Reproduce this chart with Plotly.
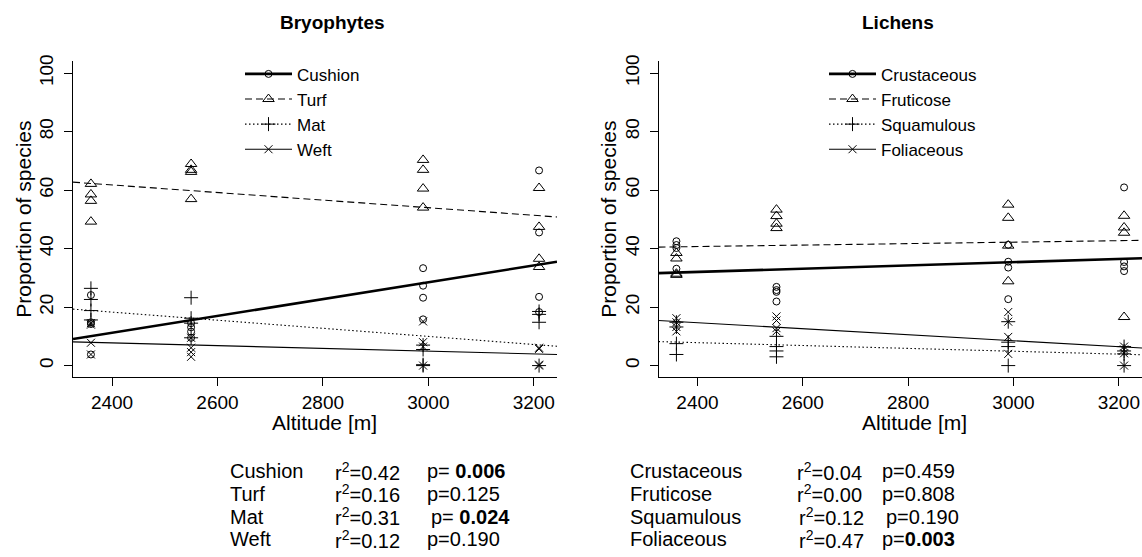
import plotly.graph_objects as go

# ---------------- data ----------------
altitudes = [2360, 2550, 2990, 3210]
trend_alt = [2326, 3244]

# Bryophytes (4 sites per altitude)
bryo_names = ["Cushion", "Turf", "Mat", "Weft"]
cushion = [24.1, 14.8, 14.2, 3.8, 14.5, 13.1, 11.6, 9.5, 33.3, 27.3, 23.2, 15.8, 66.7, 45.5, 23.5, 18.3]
turf = [62.1, 58.5, 56.3, 49.2, 68.9, 66.9, 66.2, 56.9, 70.3, 66.9, 60.5, 54.0, 60.7, 47.4, 36.5, 33.7]
mat = [26.4, 22.6, 18.8, 15.6, 23.2, 16.2, 14.5, 9.5, 7.0, 5.5, 0.3, 0.0, 18.5, 17.5, 14.8, 0.0]
weft = [14.5, 14.0, 7.8, 3.8, 9.5, 6.1, 4.6, 3.0, 15.1, 8.0, 6.5, 0.0, 6.1, 5.7, 0.3, 0.0]
bryo_trend = {
    "Cushion": [9.1, 35.5],
    "Turf": [62.7, 50.8],
    "Mat": [19.3, 6.6],
    "Weft": [8.1, 3.8],
}
bryo_r2 = ["0.42", "0.16", "0.31", "0.12"]
bryo_p = ["0.006", "0.125", "0.024", "0.190"]
bryo_sig = [True, False, True, False]
bryo_p_prefix = ["p= ", "p=", "p= ", "p="]

# Lichens
lich_names = ["Crustaceous", "Fruticose", "Squamulous", "Foliaceous"]
crust = [42.5, 41.2, 40.2, 33.1, 26.9, 25.8, 25.2, 21.9, 41.3, 35.5, 33.5, 22.7, 60.9, 35.4, 33.9, 32.3]
frut = [38.5, 36.6, 31.4, 31.0, 53.3, 51.1, 48.5, 47.0, 55.0, 50.5, 41.0, 28.8, 51.2, 47.2, 45.4, 16.6]
squam = [14.8, 13.2, 7.5, 3.8, 10.0, 6.5, 5.0, 3.0, 15.0, 8.0, 6.5, 0.0, 6.5, 5.0, 4.0, 0.0]
foli = [16.2, 14.8, 13.2, 11.7, 16.8, 15.4, 12.8, 11.7, 18.3, 15.0, 9.8, 4.0, 6.5, 5.5, 4.2, 0.0]
lich_trend = {
    "Crustaceous": [31.6, 36.7],
    "Fruticose": [40.5, 42.8],
    "Squamulous": [8.2, 3.7],
    "Foliaceous": [15.4, 6.0],
}
lich_r2 = ["0.04", "0.00", "0.12", "0.47"]
lich_p = ["0.459", "0.808", "0.190", "0.003"]
lich_sig = [False, False, False, True]
lich_p_prefix = ["p=", "p=", "p=", "p="]

x_ticks = [2400, 2600, 2800, 3000, 3200]
y_ticks = [0, 20, 40, 60, 80, 100]

# ---------------- styling ----------------
W, H = 1142, 557
FONT = "Liberation Sans, Arial, Helvetica, sans-serif"
site_alt = [a for a in altitudes for _ in range(4)]

styles = [
    dict(line=dict(color="black", width=2.6, dash="solid"),
         marker=dict(symbol="circle-open", size=7, color="black", line=dict(width=1, color="black"))),
    dict(line=dict(color="black", width=1.1, dash="7px,4px"),
         marker=dict(symbol="triangle-up-open", size=10, color="black", line=dict(width=1, color="black"))),
    dict(line=dict(color="black", width=1.1, dash="1.5px,2.5px"),
         marker=dict(symbol="cross-thin", size=10, color="black", line=dict(width=1, color="black"))),
    dict(line=dict(color="black", width=1.1, dash="solid"),
         marker=dict(symbol="x-thin", size=8, color="black", line=dict(width=1, color="black"))),
]


def px(x):
    return x / W


def py(y):
    return 1 - y / H


fig = go.Figure()

panels = [
    ("x", "y", "legend", bryo_names, [cushion, turf, mat, weft], bryo_trend),
    ("x2", "y2", "legend2", lich_names, [crust, frut, squam, foli], lich_trend),
]
for xa, ya, lg, names, series, trends in panels:
    for i, (name, vals) in enumerate(zip(names, series)):
        st = styles[i]
        fig.add_trace(go.Scatter(x=site_alt, y=vals, mode="markers", marker=st["marker"],
                                 showlegend=False, xaxis=xa, yaxis=ya, cliponaxis=False,
                                 hoverinfo="skip"))
        fig.add_trace(go.Scatter(x=trend_alt, y=trends[name], mode="lines", line=st["line"],
                                 showlegend=False, xaxis=xa, yaxis=ya, hoverinfo="skip"))
    for i, name in enumerate(names):
        st = styles[i]
        fig.add_trace(go.Scatter(x=[None], y=[None], mode="lines+markers", name=name,
                                 line=st["line"], marker=st["marker"], legend=lg,
                                 xaxis=xa, yaxis=ya))

axis_common = dict(showline=True, linecolor="black", linewidth=1, ticks="outside",
                   ticklen=8, tickwidth=1, tickcolor="black", showgrid=False,
                   zeroline=False, tickfont=dict(family=FONT, size=19, color="black"))

ydom = [py(375), py(55)]
leg_common = dict(xanchor="left", yanchor="top", bgcolor="rgba(0,0,0,0)", borderwidth=0,
                  itemwidth=47, font=dict(family=FONT, size=17, color="black"), tracegroupgap=0)
fig.update_layout(
    width=W, height=H, margin=dict(l=0, r=0, t=0, b=0),
    paper_bgcolor="white", plot_bgcolor="white",
    font=dict(family=FONT, color="black"),
    xaxis=dict(domain=[px(73), px(557)], range=trend_alt, tickvals=x_ticks, anchor="y", **axis_common),
    yaxis=dict(domain=ydom, range=[-4, 104], tickvals=y_ticks, tickangle=-90, anchor="x",
               ticklabelstandoff=3, **axis_common),
    xaxis2=dict(domain=[px(658.5), 1.0], range=trend_alt, tickvals=x_ticks, anchor="y2", **axis_common),
    yaxis2=dict(domain=ydom, range=[-4, 104], tickvals=y_ticks, tickangle=-90, anchor="x2",
                ticklabelstandoff=3, **axis_common),
    legend=dict(x=px(240), y=py(50), **leg_common),
    legend2=dict(x=px(824), y=py(50), **leg_common),
    showlegend=True,
)

ann = []
# titles
ann.append(dict(x=px(332), y=py(16), text="<b>Bryophytes</b>", font=dict(size=19)))
ann.append(dict(x=px(898), y=py(16), text="<b>Lichens</b>", font=dict(size=19)))
# axis titles
ann.append(dict(x=px(23.5), y=py(215), text="Proportion of species", textangle=-90, font=dict(size=21)))
ann.append(dict(x=px(608.5), y=py(215), text="Proportion of species", textangle=-90, font=dict(size=21)))
ann.append(dict(x=px(324), y=py(421), text="Altitude [m]", font=dict(size=21)))
ann.append(dict(x=px(914), y=py(421), text="Altitude [m]", font=dict(size=21)))

rows_y = [470, 493, 516, 539]
blocks = [
    (bryo_names, bryo_r2, bryo_p, bryo_sig, bryo_p_prefix, 228, [333, 333, 333, 333], [425, 425, 429, 425]),
    (lich_names, lich_r2, lich_p, lich_sig, lich_p_prefix, 628, [795, 795, 797, 797], [880, 880, 884, 880]),
]
for names, r2s, ps, sigs, pre, xn, xr, xp in blocks:
    for k, (name, r2, p, sig, yy) in enumerate(zip(names, r2s, ps, sigs, rows_y)):
        ann.append(dict(x=px(xn), y=py(yy), text=name, xanchor="left", font=dict(size=20)))
        ann.append(dict(x=px(xr[k]), y=py(yy), text="r<sup>2</sup>=" + r2, xanchor="left", font=dict(size=20)))
        ptxt = pre[k] + ("<b>" + p + "</b>" if sig else p)
        ann.append(dict(x=px(xp[k]), y=py(yy), text=ptxt, xanchor="left", font=dict(size=20)))

for a in ann:
    a.update(xref="paper", yref="paper", showarrow=False, yanchor="middle")
    a.setdefault("xanchor", "center")
    a["font"] = dict(family=FONT, color="black", **a["font"])
fig.update_layout(annotations=ann)

fig.write_html("out.html", config={"displayModeBar": False, "staticPlot": True},
               post_script="document.body.style.margin='0px';document.body.style.overflow='hidden';")
